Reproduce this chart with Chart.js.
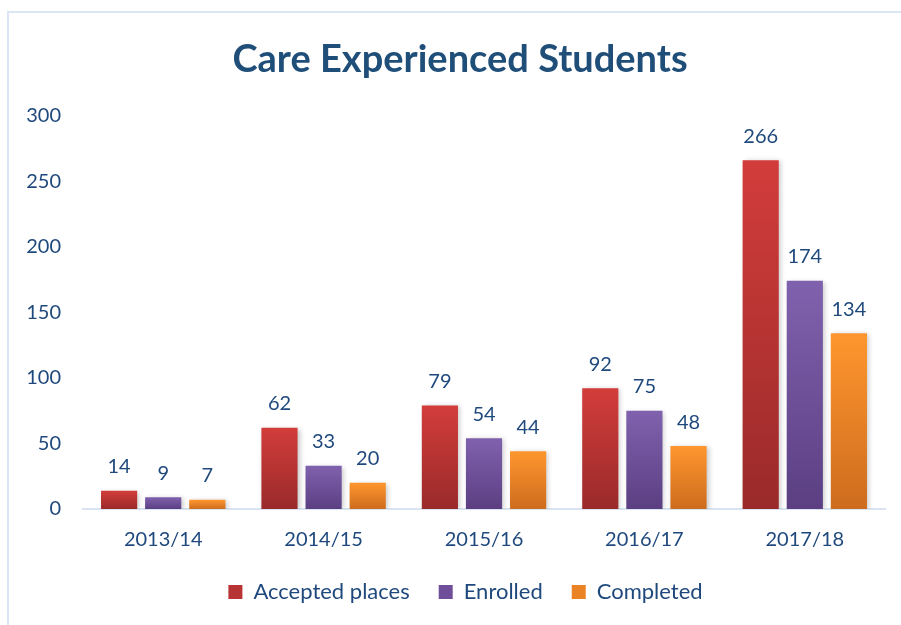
<!DOCTYPE html>
<html>
<head>
<meta charset="utf-8">
<script src="https://cdn.jsdelivr.net/npm/chart.js@4/dist/chart.umd.min.js"></script>
<style>
  html, body { margin: 0; padding: 0; background: #ffffff; overflow: hidden; }
  .marco {
    position: absolute; left: 7px; top: 11px;
    width: 1000px; height: 700px;
    border: 2px solid #dae6f6;
  }
  .base-graf { position: absolute; left: 0; top: 0; width: 901px; height: 625px; }
</style>
</head>
<body>
<div class="marco"></div>
<div class="base-graf"><canvas id="graficaCuidado" width="901" height="625"></canvas></div>
<script>
  const cursos = ['2013/14', '2014/15', '2015/16', '2016/17', '2017/18'];
  const plazasAceptadas = [14, 62, 79, 92, 266];
  const matriculados = [9, 33, 54, 75, 174];
  const completados = [7, 20, 44, 48, 134];
  const ticksY = [0, 50, 100, 150, 200, 250, 300];

  const azulTexto = '#1f497d';
  const fuente = 'Lato, "Open Sans", sans-serif';

  // degradado de arriba a abajo para cada barra
  function degradado(arriba, abajo) {
    return function (ctx) {
      const chart = ctx.chart;
      const area = chart.chartArea;
      if (!area || ctx.parsed === undefined) return arriba;
      const escala = chart.scales.y;
      const top = escala.getPixelForValue(ctx.parsed.y);
      const g = chart.ctx.createLinearGradient(0, top, 0, area.bottom);
      g.addColorStop(0, arriba);
      g.addColorStop(1, abajo);
      return g;
    };
  }

  const sombra = {
    id: 'sombra',
    beforeDatasetsDraw(chart) {
      const c = chart.ctx;
      c.save();
      c.shadowColor = 'rgba(0,0,0,0.22)';
      c.shadowBlur = 5;
      c.shadowOffsetX = 2;
      c.shadowOffsetY = 1;
    },
    afterDatasetsDraw(chart) {
      chart.ctx.restore();
    }
  };

  const etiquetas = {
    id: 'etiquetas',
    afterDatasetsDraw(chart) {
      const c = chart.ctx;
      c.save();
      c.font = '20px ' + fuente;
      c.fillStyle = azulTexto;
      c.textAlign = 'center';
      c.textBaseline = 'middle';
      chart.data.datasets.forEach((ds, i) => {
        chart.getDatasetMeta(i).data.forEach((barra, j) => {
          c.fillText(String(ds.data[j]), barra.x, barra.y - 24);
        });
      });
      c.restore();
    }
  };

  // el titulo y la leyenda se centran sobre la zona a la derecha del borde
  const centrado = {
    id: 'centrado',
    afterLayout(chart) {
      if (chart.titleBlock) chart.titleBlock.left = 35;
      if (chart.legend) chart.legend.left = 46;
    }
  };

  new Chart(document.getElementById('graficaCuidado').getContext('2d'), {
    type: 'bar',
    data: {
      labels: cursos,
      datasets: [
        {
          label: 'Accepted places',
          data: plazasAceptadas,
          backgroundColor: degradado('#d23d3b', '#9a2a2a'),
          categoryPercentage: 0.825,
          barPercentage: 0.82
        },
        {
          label: 'Enrolled',
          data: matriculados,
          backgroundColor: degradado('#8061ae', '#5b3f82'),
          categoryPercentage: 0.825,
          barPercentage: 0.82
        },
        {
          label: 'Completed',
          data: completados,
          backgroundColor: degradado('#ff962e', '#cd6c1e'),
          categoryPercentage: 0.825,
          barPercentage: 0.82
        }
      ]
    },
    options: {
      responsive: false,
      animation: false,
      devicePixelRatio: 1,
      layout: { padding: { left: 0, right: 16, top: 0, bottom: 12 } },
      plugins: {
        title: {
          display: true,
          text: 'Care Experienced Students',
          color: '#1f4e79',
          font: { family: fuente, size: 38, weight: 'bold' },
          padding: { top: 37, bottom: 33 }
        },
        legend: {
          position: 'bottom',
          labels: {
            color: azulTexto,
            font: { family: fuente, size: 22 },
            boxWidth: 14,
            boxHeight: 14,
            padding: 29,
            generateLabels(chart) {
              const base = ['#b83333', '#704f9a', '#ea8226'];
              return chart.data.datasets.map((ds, i) => ({
                text: ds.label,
                fillStyle: base[i],
                strokeStyle: base[i],
                lineWidth: 0,
                datasetIndex: i,
                fontColor: azulTexto
              }));
            }
          }
        },
        tooltip: { enabled: false }
      },
      scales: {
        x: {
          afterFit(escala) { escala.height = 43; },
          grid: { display: false, drawTicks: false },
          border: { display: true, color: '#d9e3f1', width: 2 },
          ticks: { color: azulTexto, font: { family: fuente, size: 20 }, padding: 19 }
        },
        y: {
          min: 0,
          max: 300,
          afterFit(escala) { escala.width = 83; },
          afterBuildTicks(escala) { escala.ticks = ticksY.map(v => ({ value: v })); },
          grid: { display: false, drawTicks: false },
          border: { display: false },
          ticks: { color: azulTexto, font: { family: fuente, size: 20 }, padding: 22 }
        }
      }
    },
    plugins: [sombra, etiquetas, centrado]
  });
</script>
</body>
</html>
